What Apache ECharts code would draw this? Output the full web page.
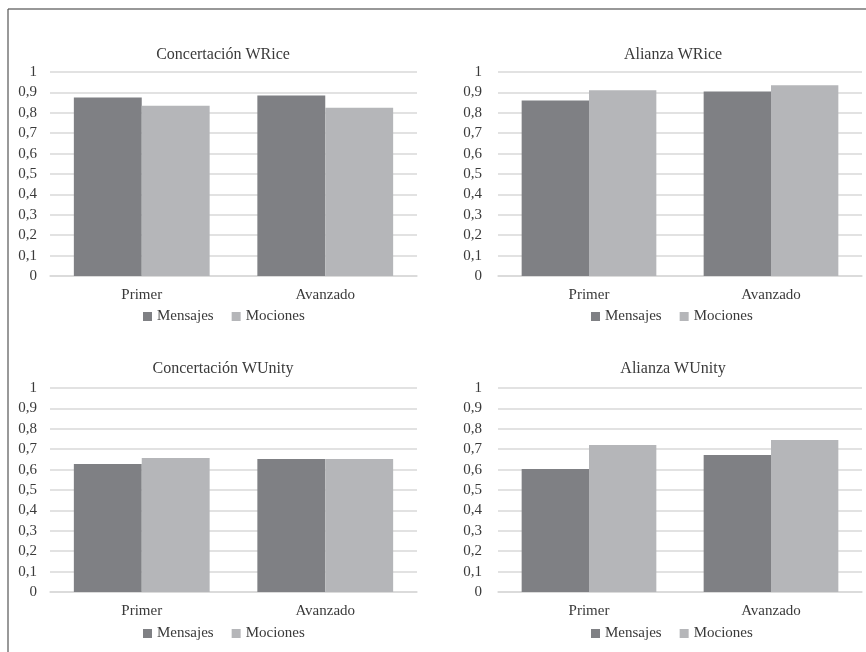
<!DOCTYPE html>
<html>
<head>
<meta charset="utf-8">
<script src="https://cdn.jsdelivr.net/npm/echarts@6/dist/echarts.min.js"></script>
<style>
  html, body { margin: 0; padding: 0; background: #fff; }
  #chart { width: 866px; height: 652px; }
</style>
</head>
<body>
<div id="chart"></div>
<script>
// Categories and legend names
const categories = ['Primer', 'Avanzado'];
const seriesNames = ['Mensajes', 'Mociones'];
const yTicks = ['0', '0,1', '0,2', '0,3', '0,4', '0,5', '0,6', '0,7', '0,8', '0,9', '1'];

// Panel titles
const panelTitles = ['Concertación WRice', 'Alianza WRice', 'Concertación WUnity', 'Alianza WUnity'];

// Values per panel: [Primer, Avanzado]
const concertacionRiceMensajes = [0.875, 0.885];
const concertacionRiceMociones = [0.835, 0.825];
const alianzaRiceMensajes = [0.86, 0.905];
const alianzaRiceMociones = [0.91, 0.935];
const concertacionUnityMensajes = [0.627, 0.652];
const concertacionUnityMociones = [0.657, 0.652];
const alianzaUnityMensajes = [0.603, 0.672];
const alianzaUnityMociones = [0.72, 0.745];

const panelData = [
  [concertacionRiceMensajes, concertacionRiceMociones],
  [alianzaRiceMensajes, alianzaRiceMociones],
  [concertacionUnityMensajes, concertacionUnityMociones],
  [alianzaUnityMensajes, alianzaUnityMociones]
];

const FONT = '"Liberation Serif", "DejaVu Serif", serif';
const TEXT = '#3a3a3a';
const GRIDLINE = '#d9d9d9';
const COLORS = ['#7f8084', '#b5b6b9'];

// Layout of the four panels
const panels = [
  { left: 50,  top: 72,  width: 367, titleX: 218, titleY: 42,  legendX: 138, legendY: 304 },
  { left: 498, top: 72,  width: 364, titleX: 668, titleY: 42,  legendX: 586, legendY: 304 },
  { left: 50,  top: 388, width: 367, titleX: 218, titleY: 356, legendX: 138, legendY: 621 },
  { left: 498, top: 388, width: 364, titleX: 668, titleY: 356, legendX: 586, legendY: 621 }
];

const option = {
  backgroundColor: '#fff',
  animation: false,
  color: COLORS,
  title: panels.map((p, i) => ({
    text: panelTitles[i],
    left: p.titleX,
    top: p.titleY,
    textAlign: 'center',
    textStyle: { fontFamily: FONT, fontSize: 16, fontWeight: 'normal', color: TEXT }
  })),
  legend: panels.map(p => ({
    data: seriesNames,
    left: p.legendX,
    top: p.legendY,
    itemWidth: 9,
    itemHeight: 9,
    itemGap: 18,
    icon: 'rect',
    textStyle: { fontFamily: FONT, fontSize: 15, color: TEXT },
    selectedMode: false
  })),
  grid: panels.map(p => ({ left: p.left, top: p.top, width: p.width, height: 204 })),
  xAxis: panels.map((p, i) => ({
    type: 'category',
    gridIndex: i,
    data: categories,
    axisLine: { show: true, lineStyle: { color: GRIDLINE, width: 1.5 } },
    axisTick: { show: false },
    axisLabel: { fontFamily: FONT, fontSize: 15, color: TEXT, margin: 12 }
  })),
  yAxis: panels.map((p, i) => ({
    type: 'value',
    gridIndex: i,
    min: 0,
    max: 1,
    interval: 0.1,
    axisLine: { show: false },
    axisTick: { show: false },
    splitLine: { lineStyle: { color: GRIDLINE, width: 1.5 } },
    axisLabel: {
      fontFamily: FONT, fontSize: 15, color: TEXT,
      margin: i % 2 === 0 ? 13 : 16,
      formatter: v => yTicks[Math.round(v * 10)]
    }
  })),
  series: []
};

panelData.forEach((pair, i) => {
  pair.forEach((values, k) => {
    option.series.push({
      name: seriesNames[k],
      type: 'bar',
      xAxisIndex: i,
      yAxisIndex: i,
      data: values,
      barGap: '0%',
      barCategoryGap: '26%',
      itemStyle: { color: COLORS[k] }
    });
  });
});

// Frame lines along the top and left edges
option.graphic = [
  { type: 'line', shape: { x1: 8, y1: 9, x2: 866, y2: 9 }, style: { stroke: '#333', lineWidth: 1.2 } },
  { type: 'line', shape: { x1: 8, y1: 9, x2: 8, y2: 652 }, style: { stroke: '#555', lineWidth: 1.2 } }
];

const chart = echarts.init(document.getElementById('chart'), null, { renderer: 'canvas' });
chart.setOption(option);
</script>
</body>
</html>
